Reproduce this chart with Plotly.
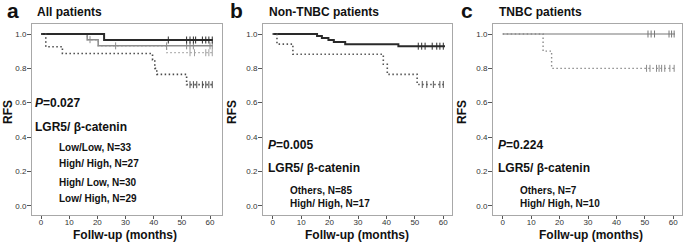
import plotly.graph_objects as go

# ---------------- data ----------------
# Panel a: All patients
a_ll_t = [0, 22.4, 61.0]
a_ll_s = [1.0, 0.965, 0.965]
a_ll_c = [45.2, 51.7, 52.9, 54.1, 54.9, 57.3, 58.5, 59.6, 60.8]

a_hl_t = [0, 16.4, 20.3, 61.0]
a_hl_s = [1.0, 0.967, 0.931, 0.931]
a_hl_c = [17.4, 26.5, 44.6, 51.7, 52.9, 54.1, 60.0, 60.8]

a_lh_t = [0, 16.4, 20.3, 44.6, 61.0]
a_lh_s = [1.0, 0.966, 0.931, 0.891, 0.891]
a_lh_c = [52.9, 54.5, 58.5, 59.6, 60.8]

a_hh_t = [0, 1.7, 7.6, 39.6, 40.4, 41.1, 51.7, 61.0]
a_hh_s = [1.0, 0.926, 0.886, 0.849, 0.80, 0.765, 0.705, 0.705]
a_hh_c = [52.9, 54.1, 55.3, 57.3, 58.5, 59.6, 60.8]

# Panel b: Non-TNBC patients
b_ot_t = [0, 15.6, 17.3, 19.6, 21.5, 25.5, 44.2, 60.6]
b_ot_s = [1.0, 0.988, 0.976, 0.965, 0.953, 0.941, 0.929, 0.929]
b_ot_c = [51.2, 52.4, 53.6, 56.1, 57.7, 58.8, 60.0]

b_hh_t = [0, 1.5, 7.1, 38.9, 40.3, 50.8, 60.6]
b_hh_s = [1.0, 0.941, 0.882, 0.824, 0.765, 0.706, 0.706]
b_hh_c = [52.6, 54.2, 56.5, 58.8, 60.0]

# Panel c: TNBC patients
c_ot_t = [0, 60.6]
c_ot_s = [1.0, 1.0]
c_ot_c = [51.1, 52.2, 53.4, 58.5, 59.4, 60.3]

c_hh_t = [0, 14.2, 17.2, 60.6]
c_hh_s = [1.0, 0.9, 0.8, 0.8]
c_hh_c = [50.6, 51.8, 54.1, 55.0, 55.9, 57.0, 58.8, 60.3]

x_ticks = [0, 10, 20, 30, 40, 50, 60]
y_ticks = [0.0, 0.2, 0.4, 0.6, 0.8, 1.0]

panel_letters = ["a", "b", "c"]
panel_titles = ["All patients", "Non-TNBC patients", "TNBC patients"]
p_values = ["0.027", "0.005", "0.224"]
legend_a = ["Low/Low, N=33", "High/ High, N=27", "High/ Low, N=30", "Low/ High, N=29"]
legend_b = ["Others, N=85", "High/ High, N=17"]
legend_c = ["Others, N=7", "High/ High, N=10"]

# ---------------- figure ----------------
W, H = 685, 249
FONT = "Liberation Sans, Arial, sans-serif"
fig = go.Figure()


def px(x):
    return x / W


def py(y):
    return 1 - y / H


def add_curve(t, s, cens, ax, color, width, dash):
    xa = "x" if ax == 1 else f"x{ax}"
    ya = "y" if ax == 1 else f"y{ax}"
    fig.add_trace(go.Scatter(x=t, y=s, mode="lines", line=dict(color=color, width=width, dash=dash, shape="hv"),
                             xaxis=xa, yaxis=ya, showlegend=False, hoverinfo="skip"))
    # censor marks: survival value at each censor time
    cy = []
    for c in cens:
        v = s[0]
        for ti, si in zip(t, s):
            if ti <= c:
                v = si
        cy.append(v)
    fig.add_trace(go.Scatter(x=cens, y=cy, mode="markers",
                             marker=dict(symbol="line-ns", size=5, line=dict(color=color, width=1)),
                             xaxis=xa, yaxis=ya, showlegend=False, hoverinfo="skip"))


DOT = "1.5px,2.5px"
add_curve(a_lh_t, a_lh_s, a_lh_c, 1, "#a0a0a0", 1.2, DOT)
add_curve(a_hl_t, a_hl_s, a_hl_c, 1, "#8c8c8c", 1.5, "solid")
add_curve(a_ll_t, a_ll_s, a_ll_c, 1, "#2a2a2a", 2, "solid")
add_curve(a_hh_t, a_hh_s, a_hh_c, 1, "#4a4a4a", 1.6, DOT)

add_curve(b_ot_t, b_ot_s, b_ot_c, 2, "#2a2a2a", 2, "solid")
add_curve(b_hh_t, b_hh_s, b_hh_c, 2, "#555555", 1.6, DOT)

add_curve(c_ot_t, c_ot_s, c_ot_c, 3, "#777777", 1.2, "solid")
add_curve(c_hh_t, c_hh_s, c_hh_c, 3, "#8a8a8a", 1.4, DOT)

# domains in pixels
x_dom = [(32, 222), (263, 452), (493, 682)]
x_zero = [(41, 210), (272.7, 443.3), (502.7, 673.3)]
y_top, y_bot = 24, 215
y1_px, y0_px = 34, 205.7

axis_common = dict(showline=True, mirror=True, linecolor="#a8a8a8", linewidth=1, showgrid=False, zeroline=False,
                   ticks="outside", tickcolor="#555", tickwidth=1,
                   tickfont=dict(family=FONT, size=8, color="#333"))
yr = [1 + (y1_px - y_top) / (y0_px - y1_px), -(y_bot - y0_px) / (y0_px - y1_px)]
for i in range(3):
    l, r = x_dom[i]
    z0, z60 = x_zero[i]
    scale = (z60 - z0) / 60
    xr = [(l - z0) / scale, (r - z0) / scale]
    key = "" if i == 0 else str(i + 1)
    fig.layout["xaxis" + key] = dict(domain=[px(l), px(r)], range=xr, tickvals=x_ticks, anchor="y" + key,
                                     ticklen=3, ticklabelstandoff=-4, **axis_common)
    fig.layout["yaxis" + key] = dict(domain=[py(y_bot), py(y_top)], range=[yr[1], yr[0]], tickvals=y_ticks,
                                     tickformat=".1f", anchor="x" + key, ticklen=4, ticklabelstandoff=-1,
                                     **axis_common)

ann = []


def text(x, y, s, size, xanchor="left", angle=0, bold=True):
    ann.append(dict(x=px(x), y=py(y), xref="paper", yref="paper", text=("<b>%s</b>" % s) if bold else s,
                    showarrow=False, xanchor=xanchor, yanchor="middle", textangle=angle,
                    font=dict(family=FONT, size=size, color="#111")))


letter_x = [5, 228, 459]
title_x = [35, 267, 497]
for i in range(3):
    text(letter_x[i], 11, panel_letters[i], 21)
    text(title_x[i], 12, panel_titles[i], 12)

rfs_x = [8, 232, 462]
xt_x = [125, 356.5, 591]
for i in range(3):
    text(rfs_x[i], 112, "RFS", 12, xanchor="center", angle=-90)
    text(xt_x[i], 235, "Follw-up (months)", 12, xanchor="center")

# panel a annotations
text(33, 103, "<i>P</i>=" + p_values[0], 12)
text(33, 127, "LGR5/ β-catenin", 12)
for s, yy in zip(legend_a, [147, 163, 182, 198]):
    text(57, yy, s, 10)

# panels b, c
for i, leg in [(1, legend_b), (2, legend_c)]:
    x0 = [0, 265.7, 495.7][i]
    text(x0, 145, "<i>P</i>=" + p_values[i], 12)
    text(x0, 168, "LGR5/ β-catenin", 12)
    for s, yy in zip(leg, [190, 203.5]):
        text(x0 + 22.6, yy, s, 10)

fig.update_layout(width=W, height=H, margin=dict(l=0, r=0, t=0, b=0), plot_bgcolor="white",
                  paper_bgcolor="white", annotations=ann, showlegend=False)

fig.write_html("out.html", config={"displayModeBar": False},
               post_script="document.body.style.margin='0px';")
